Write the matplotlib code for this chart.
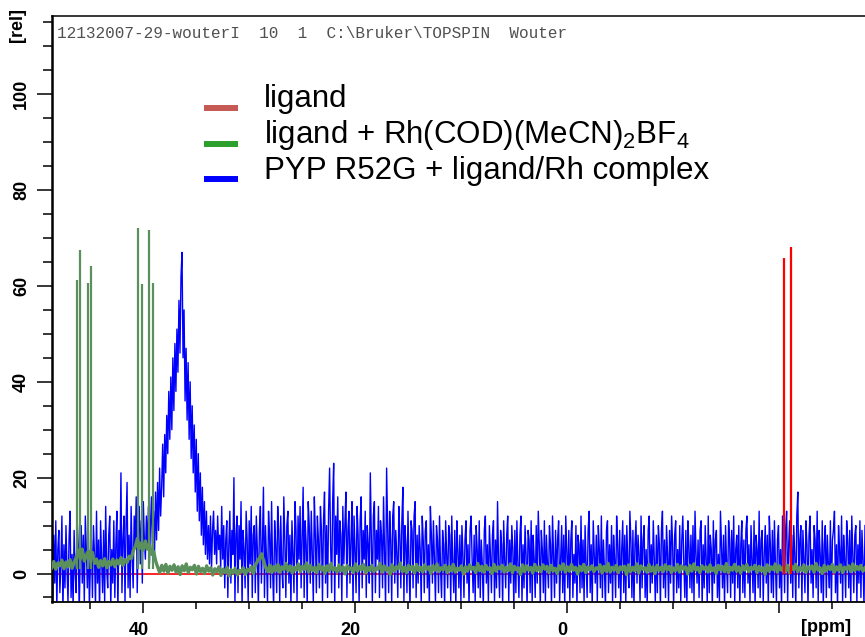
import numpy as np
import matplotlib
matplotlib.use("Agg")
import matplotlib.pyplot as plt
from matplotlib.lines import Line2D
from matplotlib.ticker import MultipleLocator, FixedLocator
import matplotlib.transforms as mtransforms

plt.rcParams['font.family'] = 'Liberation Sans'
plt.rcParams['mathtext.fontset'] = 'custom'
plt.rcParams['mathtext.rm'] = 'Liberation Sans'

# spectral window (ppm, left to right)
ppm_left = 48.64
ppm_right = -28.08

# PYP R52G + ligand/Rh complex (rel. intensity)
blue_vals = [
    3, -6, 8, -2, 11, -7, 5, 9, -4, 2, 12, -8, 6, -3, 10, 1, -6, 7, 13, -5,
    4, -7, 9, 0, -4, 11, 6, -8, 3, 10, -2, 8, -6, 12, 5, -3, 9, -7, 2, 7,
    -5, 10, 4, -7, 13, -2, 7, -8, 11, 3, -4, 9, -6, 14, 1, -3, 8, 12, -7, 5,
    -2, 11, -5, 6, 13, -8, 9, 2, 21, -4, 7, 12, -6, 10, 19, -3, 8, -5, 14, 4,
    -3, 12, 6, 16, -4, 9, 14, 2, 11, -2, 15, 7, 3, 12, 5, 14, 2, 10, 16, 4,
    13, 4, 17, 7, 19, 9, 22, 12, 18, 27, 16, 29, 21, 33, 25, 38, 28, 41, 30, 45,
    34, 48, 38, 51, 42, 57, 46, 62, 67, 45, 55, 36, 47, 32, 44, 28, 40, 24, 35, 21,
    31, 17, 28, 13, 25, 11, 21, 8, 18, 6, 15, 4, 13, 3, 10, 2, 12, 1, 9, 13,
    4, 9, 2, 12, 5, 8, 1, 14, 3, 10, -3, 7, 11, -5, 6, 13, -2, 9, 4, 20,
    -6, 8, 12, -4, 10, 3, 15, -7, 9, 5, -3, 13, 7, -6, 11, 2, 14, -5, 8, 10,
    -4, 12, 5, -7, 9, 14, -2, 6, 18, -5, 10, 3, -6, 13, 8, -3, 15, 1, -7, 11,
    6, -4, 14, 9, -6, 12, 2, -3, 16, 7, -5, 10, 13, -2, 8, -7, 11, 4, -4, 15,
    9, -6, 12, 3, 14, -3, 8, 18, -5, 11, 6, -7, 15, 10, -2, 13, 4, -6, 16, 8,
    -4, 12, 7, -3, 14, 9, -6, 11, 17, -2, 10, -5, 13, 22, 6, -4, 15, 23, -7, 12,
    4, 16, -3, 11, 8, -6, 14, 2, 10, 17, -5, 9, 13, -2, 7, 15, -7, 12, 5, -4,
    14, 8, -6, 11, 16, -3, 9, 3, 13, -5, 10, 6, -2, 21, 7, -6, 12, 15, -4, 9,
    3, 14, -5, 11, 8, -3, 16, 5, -7, 22, 10, -4, 13, 7, -6, 12, 15, -2, 9, 4,
    -5, 14, 8, -3, 11, 18, -6, 10, 6, -4, 13, 2, -7, 11, 9, -3, 12, 15, -5, 8,
    -2, 10, 5, -6, 12, 7, -4, 9, 11, -3, 6, -7, 14, 8, -2, 11, 3, -6, 10, 7,
    -4, 12, 1, -5, 9, 6, -7, 11, 4, -3, 10, 8, -6, 12, 2, -4, 9, -7, 11, 5,
    -3, 8, -6, 10, 4, -5, 7, 11, -2, 6, -7, 9, 12, 3, -4, 8, -6, 10, 5, -3,
    11, -5, 7, 2, -7, 9, 12, -2, 6, -6, 10, 4, -4, 8, 11, -6, 7, -3, 15, 2,
    -5, 9, 6, -7, 11, 3, -3, 8, 12, -6, 7, -2, 10, 5, -7, 9, -4, 11, 2, -5,
    8, 12, -6, 6, -3, 10, 4, -7, 9, 7, -4, 11, -6, 8, 3, -5, 10, -2, 13, 6,
    -7, 9, 5, -4, 11, -6, 8, 2, -3, 10, 6, -7, 12, 4, -5, 9, -2, 7, 11, -6,
    3, 10, -4, 8, -7, 12, 5, -3, 9, -6, 7, 11, -5, 4, -2, 10, -7, 8, 6, -4,
    12, -3, 7, -6, 10, 2, -5, 9, 13, -4, 6, -7, 11, 4, -2, 8, -6, 10, 5, -3,
    12, -5, 7, 1, -7, 9, 11, -4, 6, -2, 10, -6, 8, 3, -5, 12, 6, -3, 9, -7,
    5, 11, -4, 8, -6, 10, 2, -3, 13, 7, -5, 9, -7, 6, 11, -2, 8, 4, -6, 12,
    -3, 7, 10, -5, 5, -7, 9, 12, -4, 6, -2, 11, 3, -6, 8, -4, 10, 6, -7, 9,
    13, -3, 7, -5, 10, 4, -6, 9, -2, 12, 6, -7, 8, 11, -4, 5, -3, 10, -6, 7,
    12, 2, -5, 9, -7, 11, 6, -3, 8, -4, 10, -6, 13, 4, -2, 7, -5, 9, 11, -7,
    6, -3, 10, 3, -6, 12, -4, 8, 5, -7, 11, -2, 7, 9, -5, 4, -6, 13, 6, -3,
    8, -7, 10, 2, -4, 11, 7, -5, 9, -2, 12, -6, 5, 8, -3, 10, -7, 6, 11, -4,
    7, -5, 9, 12, -2, 6, -6, 10, 3, -4, 11, -7, 8, 5, -3, 13, -5, 7, 9, -6,
    4, 10, -2, 8, -7, 12, 6, -4, 9, -5, 11, 2, -6, 7, 10, -3, 5, -7, 12, 8,
    -4, 9, 13, -6, 6, 11, -2, 8, -5, 10, 4, -7, 12, 17, -3, 7, 10, -6, 9, 3,
    -4, 11, 6, -7, 8, 12, -2, 5, -5, 10, 7, -3, 13, -6, 9, 4, -4, 11, -7, 6,
    10, -5, 8, 2, -3, 11, -6, 7, 9, 13, -4, 6, -7, 10, 5, -2, 12, -6, 8, 3,
    -5, 11, 7, -3, 9, -7, 12, 4, -4, 8, 10, -6, 6, -2, 11, -5, 9, 3, -7, 10,
]

# ligand + Rh(COD)(MeCN)2BF4 : baseline and sharp lines
green_base = [
    1.2, 2.5, 0.9, 2.2, 1.6, 2.8, 1.0, 2.4, 1.4, 2.9, 1.1, 2.3, 3.4, 4.9, 3.0, 5.1, 2.6, 3.8, 4.7, 3.2,
    4.4, 2.1, 3.0, 1.3, 2.7, 1.6, 3.1, 1.2, 2.5, 1.8, 3.0, 1.4, 2.8, 2.0, 3.3, 1.7, 2.9, 2.3, 3.6, 3.1,
    4.8, 5.6, 7.3, 5.2, 6.4, 4.9, 6.8, 5.1, 5.9, 4.0, 4.6, 2.6, 1.3, 0.2, 1.7, 0.5, 1.9, 0.1, 1.5, 0.7,
    1.8, 0.3, 1.4, -0.2, 1.6, 0.6, 2.0, 0.2, 1.3, 0.8, 1.7, -0.1, 1.5, 0.4, 1.1, 0.0, 1.6, 0.5, 1.2, -0.3,
    1.0, 0.4, 1.4, -0.4, 0.9, 0.2, 1.3, -0.5, 0.8, 0.1, 1.1, -0.3, 0.7, 0.3, 1.2, -0.2, 0.9, 0.5, 1.4, 0.0,
    1.8, 2.6, 3.3, 4.1, 2.5, 1.2, 0.4, 1.7, 0.2, 1.5, 0.6, 1.9, 0.3, 1.4, 0.8, 2.1, 0.5, 1.6, 0.1, 1.3,
    0.7, 2.0, 0.4, 1.5, 0.9, 2.2, 0.3, 1.7, 0.6, 1.3, 0.2, 1.9, 0.8, 1.4, 0.0, 1.6, 0.5, 2.1, 0.7, 1.2,
    0.3, 1.8, 0.6, 1.4, -0.1, 1.7, 0.9, 1.2, 0.2, 2.0, 0.5, 1.5, 0.8, 1.9, 0.1, 1.3, 0.6, 1.7, 0.4, 1.1,
    0.9, 2.1, 0.3, 1.6, 0.7, 1.2, -0.2, 1.8, 0.5, 1.4, 1.0, 2.2, 0.4, 1.3, 0.2, 1.7, 0.8, 1.5, 0.1, 1.9,
    0.6, 1.3, 0.3, 1.8, 0.9, 1.4, 0.0, 1.6, 0.7, 2.0, 0.4, 1.2, 0.8, 1.7, 0.2, 1.5, 0.6, 1.9, 0.3, 1.1,
    0.7, 1.6, -0.1, 1.4, 0.5, 1.8, 0.9, 1.3, 0.2, 2.1, 0.6, 1.5, 0.3, 1.7, 0.8, 1.2, 0.0, 1.9, 0.5, 1.4,
    1.0, 1.7, 0.3, 1.3, 0.6, 2.0, 0.2, 1.5, 0.8, 1.2, -0.2, 1.8, 0.4, 1.6, 0.7, 1.3, 0.1, 1.9, 0.6, 1.4,
    0.4, 1.8, 0.9, 1.5, 0.2, 1.7, 0.6, 1.1, 0.0, 1.6, 0.8, 2.0, 0.3, 1.4, 0.5, 1.9, 0.7, 1.3, -0.1, 1.5,
    0.6, 1.9, 0.2, 1.4, 0.8, 1.6, 0.4, 1.2, 0.9, 1.8, 0.1, 1.5, 0.5, 2.1, 0.3, 1.3, 0.7, 1.7, 0.2, 1.4,
    0.8, 1.5, -0.2, 1.8, 0.4, 1.3, 0.6, 2.0, 0.1, 1.6, 0.9, 1.2, 0.3, 1.9, 0.5, 1.4, 0.0, 1.7, 0.7, 1.3,
    0.4, 1.8, 0.8, 1.5, 0.2, 1.2, 0.6, 1.9, 0.3, 1.6, 0.9, 1.4, -0.1, 1.7, 0.5, 2.0, 0.7, 1.3, 0.2, 1.6,
    0.9, 1.4, 0.3, 1.8, 0.6, 1.2, 0.0, 1.7, 0.8, 1.5, 0.4, 2.1, 0.2, 1.3, 0.7, 1.9, 0.5, 1.4, 0.1, 1.6,
    0.7, 1.9, 0.4, 1.3, 0.9, 1.7, 0.2, 1.5, 0.6, 1.2, -0.2, 1.8, 0.5, 1.4, 0.8, 2.0, 0.3, 1.6, 0.7, 1.3,
    0.5, 1.7, 0.1, 1.5, 0.8, 1.9, 0.4, 1.3, 0.6, 1.8, 0.2, 1.4, 0.9, 1.6, 0.3, 2.1, 0.7, 1.2, 0.0, 1.7,
    0.6, 1.5, 0.8, 1.9, 0.3, 1.4, 0.7, 1.8, 0.2, 1.3, 0.9, 1.6, 0.4, 2.0, 0.6, 1.5, 0.8, 1.7, 0.5, 1.2,
]
green_peak_ppm = [46.28, 45.97, 45.22, 44.93, 40.53, 40.15, 39.46, 39.08]
green_peak_val = [61.3, 67.5, 60.6, 64.2, 72.1, 60.5, 71.6, 60.6]

# ligand alone
red_ppm = [ppm_left, ppm_right]
red_val = [0, 0]
red_peak_ppm = [-20.47, -21.10]
red_peak_val = [65.9, 68.2]

legend_labels = ['ligand',
                 'ligand + Rh(COD)(MeCN)$_2$BF$_4$',
                 'PYP R52G + ligand/Rh complex']
legend_colors = ['#c55a55', '#2ca02c', '#0000ff']
header = r'12132007-29-wouterI  10  1  C:\Bruker\TOPSPIN  Wouter'

blue_ppm = np.linspace(ppm_left, ppm_right, len(blue_vals))
green_ppm = np.linspace(ppm_left, ppm_right, len(green_base))

W, H = 865, 637
fig = plt.figure(figsize=(W / 100, H / 100), dpi=100)
ax = fig.add_axes([0.0598, 0.0545, 0.9402, 0.921])

ax.plot(red_ppm, red_val, color='#ff0000', lw=1.2, zorder=0.5)
ax.plot(blue_ppm, blue_vals, color='#0000ff', lw=1.0, zorder=1)
ax.plot(green_ppm, green_base, color='#5b8f5b', lw=2.4, zorder=3)
ax.vlines(green_peak_ppm, 1, green_peak_val, color='#5b8f5b', lw=1.6, zorder=3)
ax.vlines(red_peak_ppm, 0, red_peak_val, color='#ff0000', lw=1.6, zorder=4)

ax.set_xlim(ppm_left, ppm_right)
ax.set_ylim(-6, 116.4)

ax.spines['right'].set_visible(False)
ax.spines['left'].set_linewidth(1.8)
ax.spines['bottom'].set_linewidth(1.3)
ax.spines['top'].set_linewidth(1.1)

ax.xaxis.set_major_locator(FixedLocator([40, 20, 0, -20]))
ax.set_xticklabels(['40', '20', '0', ''])
ax.xaxis.set_minor_locator(MultipleLocator(5))
ax.yaxis.set_major_locator(MultipleLocator(20))
ax.yaxis.set_minor_locator(MultipleLocator(5))
ax.tick_params(axis='x', which='major', length=8, width=1.1, pad=6,
               labelsize=13, top=False)
ax.tick_params(axis='x', which='minor', length=5, width=1.1, top=False)
ax.tick_params(axis='y', which='major', length=11, width=1.1, pad=4.5,
               labelsize=13, right=False, labelrotation=90)
ax.tick_params(axis='y', which='minor', length=6.5, width=1.1, right=False)
for lab in ax.get_xticklabels() + ax.get_yticklabels():
    lab.set_fontweight('bold')
shift = mtransforms.ScaledTranslation(-5 / 100, 0, fig.dpi_scale_trans)
for lab in ax.get_xticklabels():
    lab.set_transform(lab.get_transform() + shift)
for lab in ax.get_yticklabels():
    lab.set_verticalalignment('center')

fig.text(17.7 / W, 1 - 24.7 / H, '[rel]', rotation=90, ha='center',
         va='center', fontsize=13, fontweight='bold')
fig.text(826 / W, 1 - 628 / H, '[ppm]', ha='center', va='center',
         fontsize=13, fontweight='bold')
fig.text(57.4 / W, 1 - 33 / H, header, ha='left', va='center',
         family='Liberation Mono', fontsize=11.5, color='#505050')

# legend drawn the Bruker way: short line level with the text baseline
for row, (lab, col) in enumerate(zip(legend_labels, legend_colors)):
    y_txt = 107.5 + 36 * row
    y_line = 108 + 35.5 * row
    fig.add_artist(Line2D([204 / W, 238 / W], [1 - y_line / H] * 2,
                          color=col, lw=4.3, solid_capstyle='butt',
                          transform=fig.transFigure))
    fig.text(264 / W, 1 - y_txt / H, lab, ha='left', va='baseline',
             fontsize=22.5)

fig.savefig('out.png', dpi=100)
